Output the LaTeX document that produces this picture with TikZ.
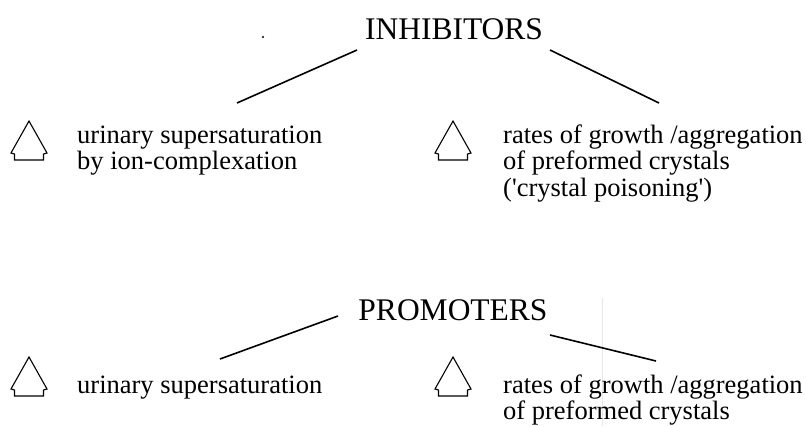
\documentclass[tikz,border=0pt]{standalone}
\usepackage{fontspec}
\setmainfont{Liberation Serif}
\begin{document}
\begin{tikzpicture}[x=1pt,y=-1pt,
  body/.style={anchor=base west,inner sep=0pt,font=\fontsize{26.5}{26.5}\selectfont},
  head/.style={anchor=base,inner sep=0pt,font=\fontsize{31.5}{31.5}\selectfont},
  link/.style={line width=1.6pt},
  tri/.style={line width=1.1pt,line join=miter}]
\useasboundingbox[fill=white] (0,0) rectangle (806,426);
\tikzset{pics/delta/.style={code={
  \draw[tri] (0,0) -- (-18,32) -- (-14.5,33) -- (-14.5,39) -- (14.5,39) -- (14.5,33) -- (18,32) -- cycle;}}}
% faint scan line
\draw[gray!18,line width=0.6pt] (602,298) -- (602,426);
% dot
\fill (263,37) circle (1.1);
% INHIBITORS
\node[head] (inh) at (454,39) {INHIBITORS};
\coordinate (i1a) at (357,50); \coordinate (i1b) at (237,103);
\coordinate (i2a) at (550,50); \coordinate (i2b) at (659,103);
\draw[link] (i1a) -- (i1b);
\draw[link] (i2a) -- (i2b);
\pic at (29,121) {delta};
\pic at (453,121) {delta};
\node[body] (t1) at (77,143) {urinary supersaturation};
\node[body] (t2) at (77,169.5) {by ion-complexation};
\node[body] (t3) at (503,143) {rates of growth /aggregation};
\node[body] (t4) at (503,169.5) {of preformed crystals};
\node[body] (t5) at (503,196) {(\textquotesingle crystal poisoning\textquotesingle)};
% PROMOTERS
\node[head] (pro) at (453,320) {PROMOTERS};
\coordinate (p1a) at (338,316); \coordinate (p1b) at (220,359);
\coordinate (p2a) at (550,335); \coordinate (p2b) at (656,361);
\draw[link] (p1a) -- (p1b);
\draw[link] (p2a) -- (p2b);
\pic at (29,357) {delta};
\pic at (453,357) {delta};
\node[body] (b1) at (77,393) {urinary supersaturation};
\node[body] (b2) at (503,393) {rates of growth /aggregation};
\node[body] (b3) at (503,419) {of preformed crystals};
\end{tikzpicture}
\end{document}
